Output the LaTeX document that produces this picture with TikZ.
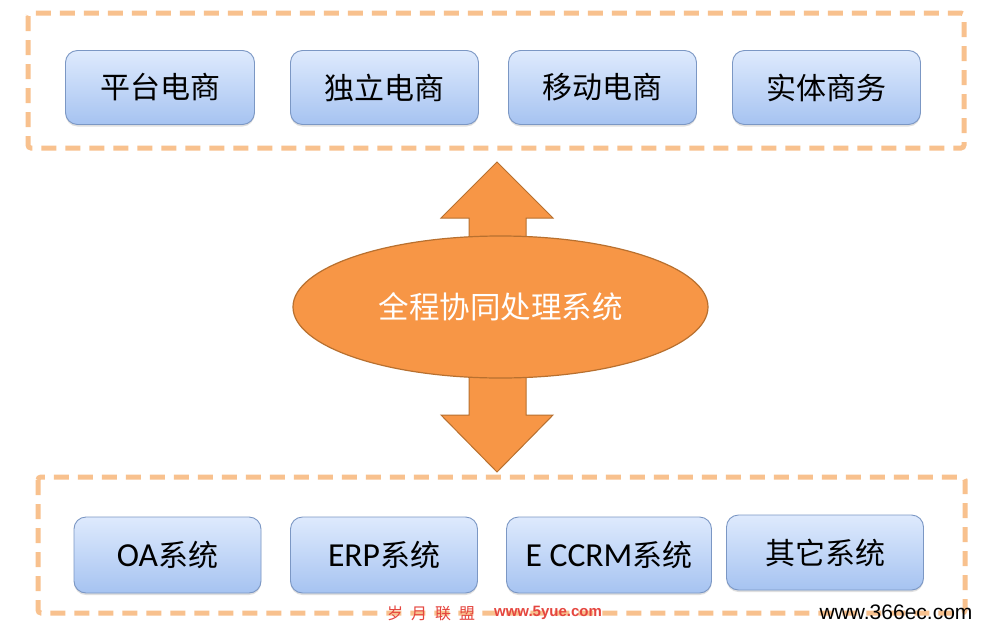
\documentclass[tikz,border=0pt]{standalone}
\usepackage{fontspec}
\setmainfont{Noto Sans CJK SC}
\newfontfamily\cjk{Noto Sans CJK SC}
\newfontfamily\lat[Scale=1.12]{Carlito}
\newfontfamily\arial{Liberation Sans}
\usetikzlibrary{shapes.geometric,shadows}
\definecolor{dashor}{HTML}{F8C18E}
\definecolor{boxtop}{HTML}{DEEAFD}
\definecolor{boxbot}{HTML}{A6C3F1}
\definecolor{boxline}{HTML}{7B97C4}
\definecolor{orfill}{HTML}{F79646}
\definecolor{orline}{HTML}{B8702F}
\definecolor{wmred}{HTML}{E5463F}
\tikzset{
  group/.style={draw=dashor, line width=5pt, dash pattern=on 15pt off 9pt, rounded corners=3pt},
  item/.style={draw=boxline, line width=0.9pt, rounded corners=12pt, top color=boxtop, bottom color=boxbot,
    drop shadow={opacity=0.25, shadow xshift=0pt, shadow yshift=-2pt},
    inner sep=0pt, font=\fontsize{30}{34}\selectfont, text=black},
  blockarrow/.style={fill=orfill, draw=orline, line width=1pt, line join=miter},
  core/.style={ellipse, fill=orfill, draw=orline, line width=1.2pt, minimum width=415pt, minimum height=142pt,
    inner sep=0pt, font=\fontsize{30.5}{34}\selectfont, text=white},
}
\begin{document}
\begin{tikzpicture}[x=1pt,y=-1pt]
\useasboundingbox[fill=white] (0,0) rectangle (988,624);
% group frames
\draw[group] (28,13) rectangle (964,148);
\draw[group] (38,477) rectangle (965,613);
% top items
\node[item, minimum width=189pt, minimum height=74pt] (t1) at (160,87.5) {平台电商};
\node[item, minimum width=188pt, minimum height=74pt] (t2) at (384.5,87.5) {独立电商};
\node[item, minimum width=188pt, minimum height=74pt] (t3) at (602.5,87.5) {移动电商};
\node[item, minimum width=188pt, minimum height=74pt] (t4) at (826.5,87.5) {实体商务};
% bottom items
\node[item, minimum width=187pt, minimum height=76pt] (b1) at (167.5,555) {{\lat OA}系统};
\node[item, minimum width=187pt, minimum height=76pt] (b2) at (384,555) {{\lat ERP}系统};
\node[item, minimum width=205pt, minimum height=76pt] (b3) at (609,555) {{\lat E CCRM}系统};
\node[item, minimum width=197pt, minimum height=75pt] (b4) at (825,552.5) {其它系统};
% block arrows
\draw[blockarrow] (497,162) -- (553,218) -- (526,218) -- (526,300) -- (469,300) -- (469,218) -- (441,218) -- cycle;
\draw[blockarrow] (497,472) -- (553,415) -- (526,415) -- (526,320) -- (469,320) -- (469,415) -- (441,415) -- cycle;
% core
\node[core] (core) at (500.5,307) {全程协同处理系统};
% watermarks
\node[text=wmred, font=\cjk\fontsize{16}{17}\selectfont, inner sep=0pt] (wm1) at (431,613) {岁\hspace{8pt}月\hspace{8pt}联\hspace{8pt}盟};
\node[text=wmred, font=\arial\bfseries\fontsize{15}{16}\selectfont, inner sep=0pt] (wm2) at (548,613) {www.5yue.com};
\node[text=black, font=\arial\fontsize{21}{22}\selectfont, inner sep=0pt] (wm3) at (896,612) {www.366ec.com};
\end{tikzpicture}
\end{document}
